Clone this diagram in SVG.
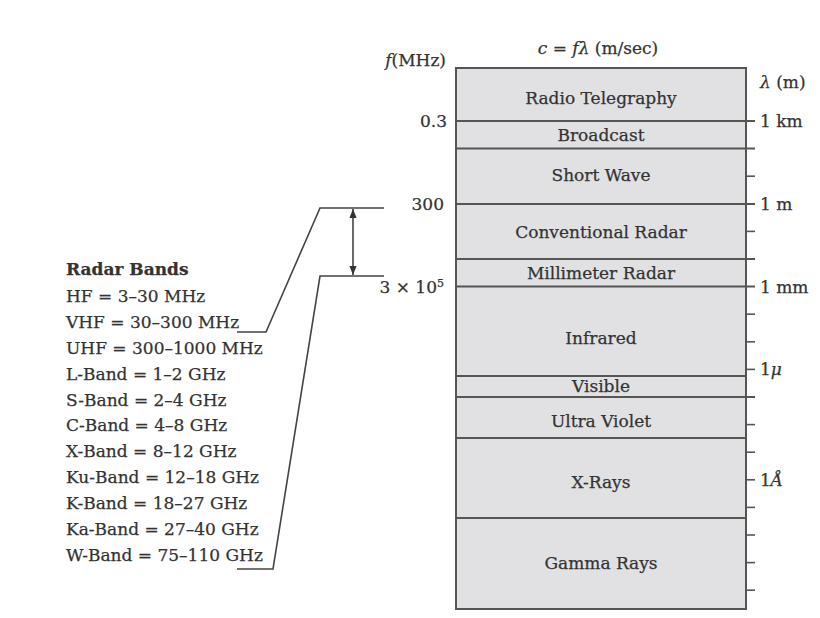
<svg xmlns="http://www.w3.org/2000/svg" width="820" height="618" viewBox="0 0 820 618">
<style>
text{font-family:"DejaVu Serif","Liberation Serif",serif;font-size:17px;fill:#333;stroke:#333;stroke-width:0.25}
.c{text-anchor:middle}
.r{text-anchor:end}
.band{fill:#e1e1e3;stroke:#555;stroke-width:2}
.bd{stroke:#555;stroke-width:2}
.tk{stroke:#555;stroke-width:1.6}
.cn{fill:none;stroke:#444;stroke-width:1.6}
.i{font-style:italic}
</style>
<defs>
<marker id="ah" viewBox="0 0 10 10" refX="10" refY="5" markerWidth="9" markerHeight="9" markerUnits="userSpaceOnUse" orient="auto-start-reverse">
<path d="M0,1 L10,5 L0,9 z" fill="#333"/>
</marker>
</defs>
<rect width="820" height="618" fill="#fff"/>

<g id="spectrum">
<rect class="band" x="456" y="68" width="290" height="541"/>
</g>
<g id="radio-telegraphy"><text class="c" x="601" y="104">Radio Telegraphy</text></g>
<g id="broadcast"><line class="bd" x1="456" y1="121" x2="755" y2="121"/><text class="c" x="601" y="141">Broadcast</text></g>
<g id="short-wave"><line class="bd" x1="456" y1="148.6" x2="755" y2="148.6"/><text class="c" x="601" y="181">Short Wave</text></g>
<g id="conventional-radar"><line class="bd" x1="456" y1="204" x2="755" y2="204"/><text class="c" x="601" y="238">Conventional Radar</text></g>
<g id="millimeter-radar"><line class="bd" x1="456" y1="259" x2="755" y2="259"/><text class="c" x="601" y="279">Millimeter Radar</text></g>
<g id="infrared"><line class="bd" x1="456" y1="286.6" x2="755" y2="286.6"/><text class="c" x="601" y="344">Infrared</text></g>
<g id="visible"><line class="bd" x1="456" y1="376" x2="746" y2="376"/><text class="c" x="601" y="392">Visible</text></g>
<g id="ultra-violet"><line class="bd" x1="456" y1="397" x2="755" y2="397"/><text class="c" x="601" y="427">Ultra Violet</text></g>
<g id="x-rays"><line class="bd" x1="456" y1="438" x2="746" y2="438"/><text class="c" x="601" y="488">X-Rays</text></g>
<g id="gamma-rays"><line class="bd" x1="456" y1="518" x2="746" y2="518"/><text class="c" x="601" y="569">Gamma Rays</text></g>

<g id="ticks">
<line class="tk" x1="746" y1="176.2" x2="755" y2="176.2"/>
<line class="tk" x1="746" y1="231.4" x2="755" y2="231.4"/>
<line class="tk" x1="746" y1="314.2" x2="755" y2="314.2"/>
<line class="tk" x1="746" y1="341.8" x2="755" y2="341.8"/>
<line class="tk" x1="746" y1="369.4" x2="755" y2="369.4"/>
<line class="tk" x1="746" y1="424.6" x2="755" y2="424.6"/>
<line class="tk" x1="746" y1="452.2" x2="755" y2="452.2"/>
<line class="tk" x1="746" y1="479.8" x2="755" y2="479.8"/>
<line class="tk" x1="746" y1="507.4" x2="755" y2="507.4"/>
<line class="tk" x1="746" y1="535" x2="755" y2="535"/>
<line class="tk" x1="746" y1="562.6" x2="755" y2="562.6"/>
<line class="tk" x1="746" y1="590.2" x2="755" y2="590.2"/>
</g>

<g id="axis-labels">
<text class="c" x="598" y="54"><tspan class="i">c</tspan> = <tspan class="i">fλ</tspan> (m/sec)</text>
<text class="r" x="446" y="66"><tspan class="i">f</tspan>(MHz)</text>
<text x="760" y="88"><tspan class="i">λ</tspan> (m)</text>
<text class="r" x="447" y="127">0.3</text>
<text class="r" x="444" y="210">300</text>
<text class="r" x="444" y="293">3 × 10<tspan font-size="11" dy="-6">5</tspan></text>
<text x="760" y="127">1 km</text>
<text x="760" y="210">1 m</text>
<text x="760" y="293">1 mm</text>
<text x="760" y="375">1<tspan class="i">μ</tspan></text>
<text x="760" y="486">1<tspan class="i">Å</tspan></text>
</g>

<g id="radar-bands">
<text x="66" y="275" font-weight="bold">Radar Bands</text>
<text x="66" y="302">HF = 3–30 MHz</text>
<text x="66" y="328">VHF = 30–300 MHz</text>
<text x="66" y="354">UHF = 300–1000 MHz</text>
<text x="66" y="380">L-Band = 1–2 GHz</text>
<text x="66" y="406">S-Band = 2–4 GHz</text>
<text x="66" y="431">C-Band = 4–8 GHz</text>
<text x="66" y="457">X-Band = 8–12 GHz</text>
<text x="66" y="483">Ku-Band = 12–18 GHz</text>
<text x="66" y="509">K-Band = 18–27 GHz</text>
<text x="66" y="535">Ka-Band = 27–40 GHz</text>
<text x="66" y="561">W-Band = 75–110 GHz</text>
</g>

<g id="connectors">
<polyline class="cn" points="384,208 320,208 266,332 237,332"/>
<polyline class="cn" points="384,276 320,276 273,569 237,569"/>
<line class="cn" x1="353" y1="209" x2="353" y2="275" marker-start="url(#ah)" marker-end="url(#ah)"/>
</g>
</svg>
